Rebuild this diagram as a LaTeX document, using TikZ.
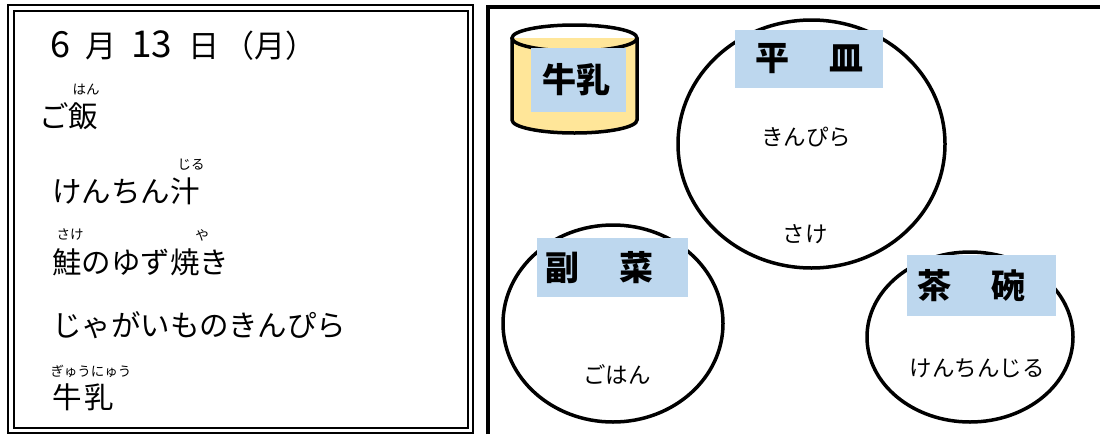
\documentclass[tikz,border=0pt]{standalone}
\usepackage{fontspec}
\setmainfont{Noto Sans CJK JP}
\usepackage{tikz}
\definecolor{tagblue}{HTML}{BDD7EE}
\definecolor{milkyellow}{HTML}{FFE699}

\begin{document}
\begin{tikzpicture}[x=1pt,y=-1pt,
  menu/.style={anchor=west,inner sep=0pt,font=\fontsize{29.5}{31}\selectfont},
  ruby/.style={inner sep=0pt,font=\fontsize{13.5}{14}\selectfont},
  plate/.style={line width=3.5pt},
  tag/.style={fill=tagblue,anchor=west,inner ysep=0pt,align=left,font=\fontsize{34}{36}\selectfont\bfseries},
  dish/.style={inner sep=0pt,font=\fontsize{22.5}{24}\selectfont}]
  \useasboundingbox (0,0) rectangle (1100,434);
  \draw[line width=1.5pt] (8,5) rectangle (473,433) (14,11) rectangle (468,428);
  \node[anchor=base west,inner sep=0pt,font=\fontsize{31}{32}\selectfont] (date) at (50,57)
    {{\fontsize{36}{36}\selectfont 6}\hspace{15pt}月\hspace{15pt}{\fontsize{37}{36}\selectfont 13}\hspace{16pt}日\hspace{4pt}（月）};
  \node[menu] (gohan) at (39,116) {ご飯};
  \node[ruby] (gohanruby) at (86,90) {はん};
  \node[menu] (kenchin) at (52,191) {けんちん汁};
  \node[ruby] (kenchinruby) at (191,165) {じる};
  \node[menu] (sake) at (52,262) {鮭のゆず焼き};
  \node[ruby] (sakeruby) at (70,235) {さけ};
  \node[ruby] (yakiruby) at (202,235) {や};
  \node[menu] (kinpira) at (52,325) {じゃがいものきんぴら};
  \node[menu] (milk) at (52,397) {牛\hspace{3pt}乳};
  \node[ruby] (milkruby) at (91,371) {ぎゅうにゅう};
  \draw[line width=4pt] (488,434) -- (488,7) -- (1100,7);
  \fill[milkyellow] (512,38) -- (512,120) arc[start angle=180,end angle=360,x radius=62.5pt,y radius=13pt] -- (637,38) -- cycle;
  \draw[plate] (512,38) -- (512,120) arc[start angle=180,end angle=360,x radius=62.5pt,y radius=13pt] -- (637,38);
  \draw[plate] (574.5,38) ellipse [x radius=62.5pt,y radius=13pt];
  \draw[plate] (811.5,144) ellipse [x radius=133.5pt,y radius=124pt];
  \draw[plate] (613,323.5) ellipse [x radius=110pt,y radius=98.5pt];
  \draw[plate] (970,337) ellipse [x radius=103pt,y radius=85pt];
  \node[tag,inner xsep=11pt,text width=73pt,minimum height=64pt] (milktag) at (531,80) {牛乳};
  \node[tag,inner xsep=20pt,text width=108pt,minimum height=58pt] (hirazara) at (735,59) {平\hspace{40pt}皿};
  \node[tag,inner xsep=8pt,text width=135pt,minimum height=59pt] (fukusai) at (537,267.5) {副\hspace{40pt}菜};
  \node[tag,inner xsep=10pt,text width=129pt,minimum height=61pt] (chawan) at (907,285.5) {茶\hspace{40pt}碗};
  \node[dish] (kinpiradish) at (806,137) {きんぴら};
  \node[dish] (sakedish) at (805,234) {さけ};
  \node[dish] (gohandish) at (617,374) {ごはん};
  \node[dish] (kenchindish) at (977,368) {けんちんじる};
\end{tikzpicture}
\end{document}
